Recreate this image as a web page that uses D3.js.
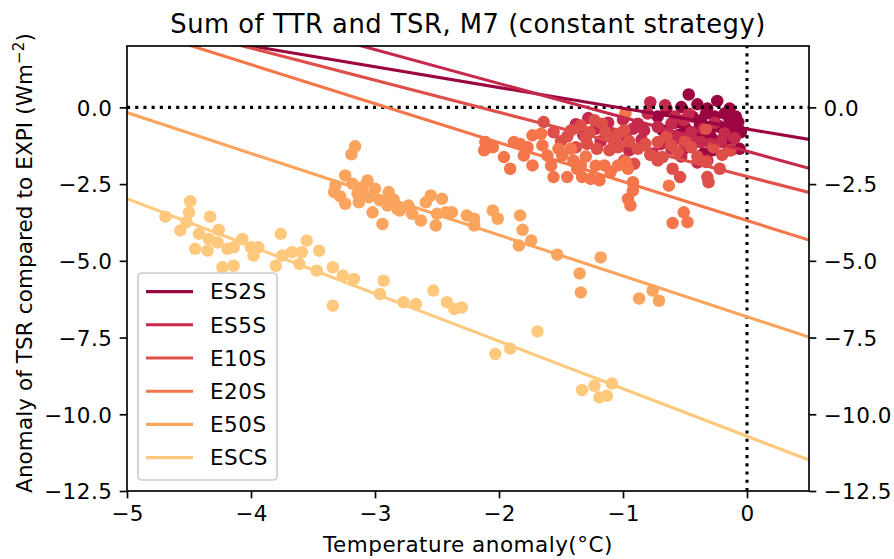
<!DOCTYPE html>
<html>
<head>
<meta charset="utf-8">
<script src="https://cdn.jsdelivr.net/npm/d3@7"></script>
<style>
  html, body { margin: 0; padding: 0; background: #fff; }
  svg { display: block; font-family: "DejaVu Sans", sans-serif; }
  svg text { letter-spacing: 0.5px; }
</style>
</head>
<body>
<svg id="chart" width="894" height="559"></svg>
<script>
// Experiments, in plotting order
const experiments = ["ES2S", "ES5S", "E10S", "E20S", "E50S", "ESCS"];
const colors = ["#9b0641", "#c52a4d", "#df4f4a", "#f4764a", "#fba45d", "#fec97c"];

// Linear fit per experiment: TSR anomaly = intercept + slope * temperature anomaly
const fitIntercept = [-0.705, -1.432, -2.25, -3.69, -6.82, -10.715];
const fitSlope = [-0.676, -1.105, -1.045, -1.271, -1.33, -1.548];

// Yearly points (temperature anomaly in °C, TSR anomaly in W m-2)
const ptsES2S = [
  [-0.72,-0.30],[-0.68,-0.75],[-0.65,-0.05],[-0.62,-1.10],[-0.58,-0.50],[-0.55,-0.90],
  [-0.53,0.01],[-0.50,-0.65],[-0.47,0.42],[-0.46,-1.20],[-0.44,-0.30],[-0.42,-0.85],
  [-0.40,0.10],[-0.38,-0.55],[-0.37,-0.42],[-0.35,-1.05],[-0.33,-0.20],[-0.32,-0.04],
  [-0.30,-0.75],[-0.29,-0.97],[-0.28,-1.40],[-0.26,-0.30],[-0.24,0.21],[-0.23,-0.60],
  [-0.22,-0.64],[-0.20,-1.05],[-0.18,-0.20],[-0.17,-0.85],[-0.15,-1.25],[-0.14,-0.04],
  [-0.14,-0.42],[-0.12,-0.70],[-0.10,-0.95],[-0.09,-0.30],[-0.07,-0.48],[-0.06,-0.75],
  [-0.05,-0.81],[-0.06,-1.35],[-0.35,-1.50]
];
const ptsES5S = [
  [-1.38,-0.55],[-1.32,-0.90],[-1.28,-0.35],[-1.22,-0.70],[-1.18,-1.10],[-1.12,-0.50],
  [-1.08,-0.85],[-1.05,-1.25],[-1.00,-0.40],[-0.98,-0.95],[-0.95,-1.40],[-0.92,-0.70],
  [-0.88,-0.53],[-0.85,-1.05],[-0.83,-0.75],[-0.80,-0.20],[-0.78,0.17],[-0.76,-1.50],
  [-0.72,-0.64],[-0.70,-1.20],[-0.66,0.07],[-0.64,-0.90],[-0.61,-0.53],[-0.61,-1.35],
  [-0.58,-0.30],[-0.56,-1.02],[-0.53,-1.60],[-0.51,-0.42],[-0.51,-1.35],[-0.47,-0.21],
  [-0.45,-0.80],[-0.42,-1.15],[-0.40,-1.80],[-0.37,-1.13],[-0.35,-0.70],[-0.32,-1.73],
  [-0.29,-1.19],[-0.26,-0.50],[-0.21,-1.13],[-0.18,-0.85],[-0.13,-1.40],[-0.10,-1.00],
  [-0.72,-1.70]
];
const ptsE10S = [
  [-1.64,-0.48],[-1.56,-0.81],[-1.50,-1.10],[-1.45,-0.95],[-1.42,-0.75],[-1.38,-1.30],
  [-1.34,-0.59],[-1.30,-1.00],[-1.29,-1.19],[-1.27,-0.81],[-1.23,-0.42],[-1.21,-1.35],
  [-1.17,-0.53],[-1.14,-0.81],[-1.11,-1.40],[-1.08,-1.05],[-1.04,-0.86],[-1.04,-1.30],
  [-0.99,-0.75],[-0.99,-1.73],[-0.95,-1.10],[-0.91,-1.84],[-0.88,-1.35],[-0.82,-1.19],
  [-0.78,-1.55],[-0.72,-1.13],[-0.72,-1.73],[-0.68,-1.62],[-0.65,-0.95],[-0.61,-1.24],
  [-0.60,-2.00],[-0.56,-1.45],[-0.54,-2.27],[-0.50,-1.10],[-0.45,-1.30],[-0.40,-1.60],
  [-0.33,-1.78],[-0.33,-0.70],[-0.32,-2.27],[-0.31,-2.44],[-0.27,-1.30],[-0.22,-2.00],
  [-0.14,-1.40],[-0.20,-1.55]
];
const ptsE20S = [
  [-2.11,-1.13],[-2.12,-1.40],[-2.05,-1.30],[-1.96,-1.62],[-1.91,-2.00],[-1.88,-1.13],
  [-1.83,-1.19],[-1.80,-1.57],[-1.77,-1.30],[-1.73,-1.89],[-1.73,-0.91],[-1.66,-0.86],
  [-1.65,-1.24],[-1.61,-1.57],[-1.58,-1.90],[-1.56,-2.27],[-1.52,-1.35],[-1.49,-1.57],
  [-1.45,-2.27],[-1.42,-1.35],[-1.40,-1.73],[-1.37,-2.00],[-1.34,-1.89],[-1.33,-2.27],
  [-1.30,-1.60],[-1.26,-2.33],[-1.22,-1.90],[-1.19,-2.38],[-1.15,-1.89],[-1.10,-2.10],
  [-1.04,-1.89],[-0.98,-1.78],[-0.98,-0.19],[-0.96,-2.00],[-0.92,-2.44],[-0.92,-2.71],
  [-0.96,-2.98],[-0.94,-3.20],[-0.63,-2.55],[-0.51,-3.42],[-0.48,-3.74],[-0.60,-3.77]
];
const ptsE50S = [
  [-3.16,-1.27],[-3.19,-1.53],[-3.24,-2.22],[-3.33,-2.76],[-3.32,-2.55],[-3.24,-3.14],
  [-3.18,-2.49],[-3.14,-2.82],[-3.13,-3.09],[-3.06,-2.38],[-3.05,-2.93],[-3.02,-3.42],
  [-3.00,-2.65],[-2.96,-3.03],[-2.94,-3.80],[-2.89,-2.76],[-2.90,-3.20],[-2.82,-3.31],
  [-2.80,-3.36],[-2.73,-3.20],[-2.70,-3.47],[-2.63,-3.69],[-2.59,-3.09],[-2.55,-2.87],
  [-2.46,-2.98],[-2.51,-3.85],[-2.50,-3.47],[-2.43,-3.42],[-2.38,-3.42],[-2.26,-3.52],
  [-2.20,-3.63],[-2.20,-3.85],[-2.05,-3.36],[-2.01,-3.63],[-1.83,-3.52],[-1.81,-3.99],
  [-1.74,-4.34],[-1.84,-4.50],[-1.53,-4.80],[-1.35,-5.41],[-1.34,-6.03],[-1.18,-4.89],
  [-0.87,-6.23],[-0.76,-5.97],[-0.71,-6.30],[-3.10,-2.60],[-2.85,-3.00],[-3.28,-2.90]
];
const ptsESCS = [
  [-4.69,-3.56],[-4.49,-3.06],[-4.50,-3.42],[-4.52,-3.74],[-4.57,-4.01],[-4.42,-4.12],
  [-4.33,-3.56],[-4.45,-4.61],[-4.35,-4.67],[-4.34,-4.29],[-4.26,-3.99],[-4.27,-4.40],
  [-4.23,-5.21],[-4.14,-5.16],[-4.19,-4.61],[-4.14,-4.56],[-4.07,-4.29],[-4.00,-4.56],
  [-3.94,-4.56],[-3.98,-4.83],[-3.80,-5.16],[-3.76,-4.12],[-3.75,-4.83],[-3.67,-4.72],
  [-3.59,-4.72],[-3.55,-4.34],[-3.61,-5.10],[-3.45,-4.67],[-3.47,-5.32],[-3.34,-5.21],
  [-3.26,-5.48],[-3.17,-5.59],[-3.34,-6.46],[-2.93,-5.65],[-2.96,-6.08],[-2.77,-6.35],
  [-2.67,-6.41],[-2.53,-5.97],[-2.42,-6.35],[-2.36,-6.57],[-2.30,-6.52],[-1.69,-7.30],
  [-2.03,-8.04],[-1.91,-7.86],[-1.33,-9.21],[-1.23,-9.07],[-1.19,-9.45],[-1.13,-9.40],
  [-1.09,-9.00]
];
const points = [ptsES2S, ptsES5S, ptsE10S, ptsE20S, ptsE50S, ptsESCS];

// Axis ticks
const xTicks = [-5, -4, -3, -2, -1, 0];
const yTicks = [0, -2.5, -5, -7.5, -10, -12.5];
const xDomain = [-5, 0.5];
const yDomain = [-12.5, 2.0];

const titleText = "Sum of TTR and TSR, M7 (constant strategy)";
const xLabelText = "Temperature anomaly(°C)";

// ---- layout ----
const W = 894, H = 559;
const plot = { left: 127, right: 809, top: 46, bottom: 491 };
const fs = 21.5;           // tick / label font size
const titleFs = 25.8;
const tickLen = 7.3;
const tickPad = 7.3;
const spineW = 1.67;
const lineW = 3.1;
const markerR = 6.25;

const svg = d3.select("#chart");
const x = d3.scaleLinear().domain(xDomain).range([plot.left, plot.right]);
const y = d3.scaleLinear().domain(yDomain).range([plot.bottom, plot.top]);

svg.append("defs").append("clipPath").attr("id", "plotclip")
  .append("rect")
  .attr("x", plot.left).attr("y", plot.top)
  .attr("width", plot.right - plot.left).attr("height", plot.bottom - plot.top);

const area = svg.append("g").attr("clip-path", "url(#plotclip)");

// scatter points, one layer per experiment
experiments.forEach((name, i) => {
  area.append("g").attr("class", "pts-" + name)
    .selectAll("circle").data(points[i]).join("circle")
    .attr("cx", d => x(d[0])).attr("cy", d => y(d[1]))
    .attr("r", markerR).attr("fill", colors[i]);
});

// reference lines at zero
area.append("line")
  .attr("x1", x(xDomain[0])).attr("x2", x(xDomain[1]))
  .attr("y1", y(0)).attr("y2", y(0))
  .attr("stroke", "#000").attr("stroke-width", lineW)
  .attr("stroke-dasharray", "3.1,5.1");
area.append("line")
  .attr("x1", x(0)).attr("x2", x(0))
  .attr("y1", y(yDomain[0])).attr("y2", y(yDomain[1]))
  .attr("stroke", "#000").attr("stroke-width", lineW)
  .attr("stroke-dasharray", "3.1,5.1");

// fitted regression lines
const fitLine = d3.line().x(d => x(d[0])).y(d => y(d[1]));
experiments.forEach((name, i) => {
  const seg = xDomain.map(t => [t, fitIntercept[i] + fitSlope[i] * t]);
  area.append("path").datum(seg)
    .attr("d", fitLine)
    .attr("fill", "none")
    .attr("stroke", colors[i]).attr("stroke-width", lineW);
});

// axes
const fmtY = d => d3.format(".1f")(d).replace("-", "\u2212");
const fmtX = d => d3.format("d")(d).replace("-", "\u2212");

function styleAxis(g) {
  g.select(".domain").remove();
  g.selectAll(".tick line").attr("stroke", "#000").attr("stroke-width", spineW);
  g.selectAll(".tick text").attr("fill", "#000")
    .style("font-size", fs + "px").style("font-family", "DejaVu Sans");
}

svg.append("g").attr("transform", `translate(0,${plot.bottom})`)
  .call(d3.axisBottom(x).tickValues(xTicks).tickFormat(fmtX)
    .tickSize(tickLen).tickPadding(tickPad))
  .call(styleAxis)
  .call(g => g.selectAll(".tick text").attr("dy", "0.72em"));

svg.append("g").attr("transform", `translate(${plot.left},0)`)
  .call(d3.axisLeft(y).tickValues(yTicks).tickFormat(fmtY)
    .tickSize(tickLen).tickPadding(tickPad))
  .call(styleAxis)
  .call(g => g.selectAll(".tick text").attr("dy", "0.36em"));

svg.append("g").attr("transform", `translate(${plot.right},0)`)
  .call(d3.axisRight(y).tickValues(yTicks).tickFormat(fmtY)
    .tickSize(tickLen).tickPadding(tickPad))
  .call(styleAxis)
  .call(g => g.selectAll(".tick text").attr("dy", "0.36em"));

// frame
svg.append("rect")
  .attr("x", plot.left).attr("y", plot.top)
  .attr("width", plot.right - plot.left).attr("height", plot.bottom - plot.top)
  .attr("fill", "none").attr("stroke", "#000").attr("stroke-width", spineW);

// title and axis labels
svg.append("text")
  .attr("x", (plot.left + plot.right) / 2).attr("y", 33)
  .attr("text-anchor", "middle").style("font-size", titleFs + "px")
  .text(titleText);

svg.append("text")
  .attr("x", (plot.left + plot.right) / 2).attr("y", 552)
  .attr("text-anchor", "middle").style("font-size", fs + "px")
  .text(xLabelText);

const yl = svg.append("text")
  .attr("transform", `translate(32,263) rotate(-90)`)
  .attr("text-anchor", "middle").style("font-size", fs + "px")
  .style("letter-spacing", "0.1px");
yl.append("tspan").text("Anomaly of TSR compared to EXPI (Wm");
yl.append("tspan").attr("dy", -8).style("font-size", "15px").text("\u22122");
yl.append("tspan").attr("dy", 8).text(")");

// legend
const lg = { x: 138, y: 273, w: 139, h: 207, row0: 291.6, rowStep: 33.2 };
const legend = svg.append("g");
legend.append("rect")
  .attr("x", lg.x).attr("y", lg.y).attr("width", lg.w).attr("height", lg.h)
  .attr("rx", 4).attr("ry", 4)
  .attr("fill", "#fff").attr("fill-opacity", 0.8)
  .attr("stroke", "#cccccc").attr("stroke-width", 1.67);
experiments.forEach((name, i) => {
  const cy = lg.row0 + i * lg.rowStep;
  legend.append("line")
    .attr("x1", 146).attr("x2", 193).attr("y1", cy).attr("y2", cy)
    .attr("stroke", colors[i]).attr("stroke-width", lineW);
  legend.append("text")
    .attr("x", 210).attr("y", cy + 7.8)
    .style("font-size", fs + "px")
    .text(name);
});
</script>
</body>
</html>
